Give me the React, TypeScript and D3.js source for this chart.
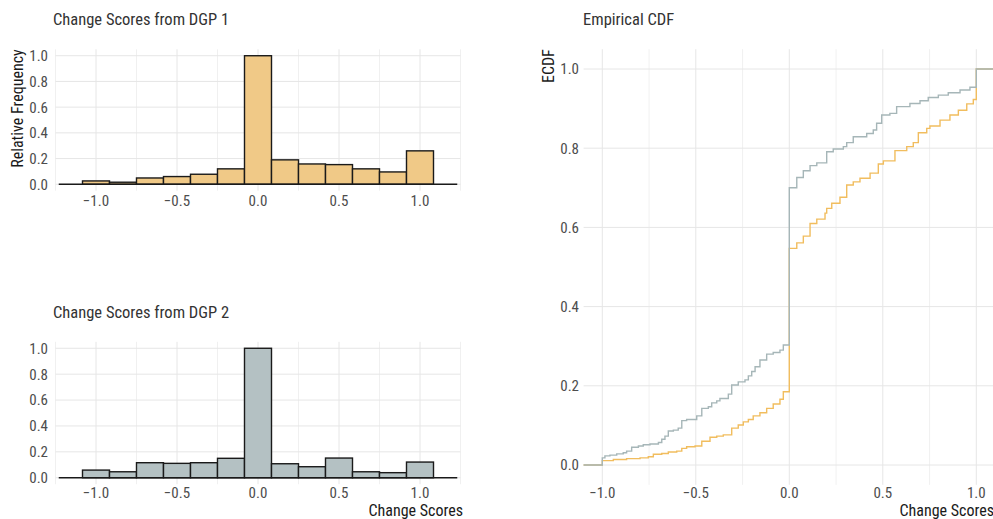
import React from "react";
import * as d3 from "d3";

// histogram bins (centres, width 1/6) and relative frequencies
const binCenters = [-1, -0.8333, -0.6667, -0.5, -0.3333, -0.1667, 0, 0.1667, 0.3333, 0.5, 0.6667, 0.8333, 1];
const binWidth = 1 / 6;
const dgp1Freq = [0.026, 0.016, 0.049, 0.06, 0.078, 0.12, 1.0, 0.19, 0.158, 0.153, 0.12, 0.096, 0.26];
const dgp2Freq = [0.059, 0.046, 0.116, 0.111, 0.116, 0.15, 1.0, 0.108, 0.085, 0.152, 0.046, 0.039, 0.121];

// empirical CDF step points (x where the step happens, F after it)
const dgp1EcdfX = [-1.0, -0.941, -0.87, -0.798, -0.754, -0.727, -0.682, -0.647, -0.602, -0.575, -0.549, -0.504, -0.468, -0.424, -0.388, -0.353, -0.308, -0.273, -0.246, -0.219, -0.193, -0.157, -0.121, -0.086, -0.05, -0.032, 0, 0.04, 0.075, 0.111, 0.147, 0.191, 0.2, 0.227, 0.271, 0.307, 0.342, 0.378, 0.432, 0.476, 0.503, 0.565, 0.628, 0.663, 0.69, 0.735, 0.752, 0.806, 0.859, 0.904, 0.949, 0.984, 1.0];
const dgp1EcdfY = [0.011, 0.014, 0.016, 0.018, 0.021, 0.027, 0.029, 0.033, 0.035, 0.042, 0.046, 0.048, 0.06, 0.07, 0.073, 0.076, 0.093, 0.101, 0.109, 0.115, 0.124, 0.132, 0.143, 0.154, 0.166, 0.185, 0.547, 0.561, 0.578, 0.61, 0.621, 0.636, 0.648, 0.661, 0.676, 0.707, 0.715, 0.724, 0.737, 0.76, 0.768, 0.794, 0.804, 0.814, 0.839, 0.85, 0.856, 0.871, 0.884, 0.896, 0.912, 0.923, 1.0];
const dgp2EcdfX = [-1.0, -0.986, -0.959, -0.923, -0.888, -0.87, -0.843, -0.807, -0.781, -0.745, -0.7, -0.682, -0.665, -0.647, -0.62, -0.594, -0.575, -0.549, -0.495, -0.468, -0.433, -0.415, -0.388, -0.371, -0.326, -0.308, -0.273, -0.237, -0.219, -0.201, -0.183, -0.157, -0.121, -0.086, -0.05, -0.032, 0, 0.04, 0.075, 0.111, 0.147, 0.2, 0.235, 0.289, 0.307, 0.342, 0.414, 0.449, 0.467, 0.494, 0.538, 0.574, 0.645, 0.699, 0.743, 0.797, 0.85, 0.913, 0.966, 1.0];
const dgp2EcdfY = [0.018, 0.023, 0.025, 0.028, 0.031, 0.035, 0.045, 0.048, 0.051, 0.053, 0.057, 0.065, 0.073, 0.086, 0.088, 0.093, 0.112, 0.115, 0.124, 0.143, 0.147, 0.157, 0.162, 0.168, 0.179, 0.202, 0.21, 0.215, 0.225, 0.236, 0.248, 0.265, 0.28, 0.284, 0.29, 0.303, 0.7, 0.726, 0.743, 0.756, 0.763, 0.791, 0.798, 0.804, 0.814, 0.829, 0.837, 0.846, 0.863, 0.884, 0.888, 0.905, 0.913, 0.92, 0.928, 0.934, 0.94, 0.947, 0.954, 1.0];

const xTicks = [-1, -0.5, 0, 0.5, 1];
const histMinorX = [-1.25, -0.75, -0.25, 0.25, 0.75, 1.25];
const ecdfMinorX = [-0.75, -0.25, 0.25, 0.75];
const freqTicks = [0, 0.2, 0.4, 0.6, 0.8, 1];
const ecdfTicks = [0, 0.2, 0.4, 0.6, 0.8, 1];

const orangeFill = "#F0C987";
const grayFill = "#B4C1C3";
const orangeLine = "#F1BD5E";
const grayLine = "#A6B6B8";
const grid = "#E6E6E6";
const font = "'Roboto Condensed', Roboto, sans-serif";
const fmt = d3.format(".1f");
const tickSize = 15;
const titleSize = 16.5;
const axisSize = 16;

function Histogram({ top, bottom, values, fill, title, titleY, tickY, showY, showX }) {
  const x = d3.scaleLinear().domain([-1.25, 1.25]).range([55.5, 460.5]);
  const y = d3.scaleLinear().domain([-0.05, 1.05]).range([bottom, top]);
  return (
    <g>
      <text x={53} y={titleY} fontSize={titleSize} fill="#333">{title}</text>
      {histMinorX.map(d => <line key={"m" + d} x1={x(d)} x2={x(d)} y1={top} y2={bottom} stroke={grid} strokeWidth={0.6} />)}
      {xTicks.map(d => <line key={"M" + d} x1={x(d)} x2={x(d)} y1={top} y2={bottom} stroke={grid} strokeWidth={1} />)}
      {freqTicks.map(d => (
        <g key={"y" + d}>
          <line x1={x(-1.25)} x2={x(1.25)} y1={y(d)} y2={y(d)} stroke={grid} strokeWidth={1} />
          <text x={48} y={y(d)} dy="0.36em" textAnchor="end" fontSize={tickSize} fill="#4d4d4d">{fmt(d)}</text>
        </g>
      ))}
      {values.map((v, i) => (
        <rect key={i} x={x(binCenters[i] - binWidth / 2)} width={x(binWidth) - x(0)}
          y={y(v)} height={y(0) - y(v)} fill={fill} stroke="#1a1a1a" strokeWidth={1.4} />
      ))}
      <line x1={x(-1.23)} x2={x(1.23)} y1={y(0)} y2={y(0)} stroke="#1a1a1a" strokeWidth={1.5} />
      {xTicks.map(d => (
        <text key={"x" + d} x={x(d)} y={tickY} textAnchor="middle" fontSize={tickSize} fill="#4d4d4d">{fmt(d)}</text>
      ))}
      {showY && (
        <text transform={`translate(23,${top}) rotate(-90)`} textAnchor="end" fontSize={axisSize} fill="#1a1a1a">Relative Frequency</text>
      )}
      {showX && (
        <text x={463} y={516} textAnchor="end" fontSize={axisSize} fill="#1a1a1a">Change Scores</text>
      )}
    </g>
  );
}

function Ecdf() {
  const top = 49.2, bottom = 484.8;
  const x = d3.scaleLinear().domain([-1.1, 1.1]).range([583.6, 995]);
  const y = d3.scaleLinear().domain([-0.05, 1.05]).range([bottom, top]);
  const line = d3.line().x(d => x(d[0])).y(d => y(d[1])).curve(d3.curveStepAfter);
  const pts = (xs, ys) => [[-1.1, 0], ...xs.map((v, i) => [v, ys[i]]), [1.1, 1]];
  return (
    <g>
      <text x={583} y={25} fontSize={titleSize} fill="#333">Empirical CDF</text>
      {ecdfMinorX.map(d => <line key={"m" + d} x1={x(d)} x2={x(d)} y1={top} y2={bottom} stroke={grid} strokeWidth={0.6} />)}
      {xTicks.map(d => <line key={"M" + d} x1={x(d)} x2={x(d)} y1={top} y2={bottom} stroke={grid} strokeWidth={1} />)}
      {ecdfTicks.map(d => (
        <g key={"y" + d}>
          <line x1={x(-1.1)} x2={x(1.1)} y1={y(d)} y2={y(d)} stroke={grid} strokeWidth={1} />
          <text x={579} y={y(d)} dy="0.36em" textAnchor="end" fontSize={tickSize} fill="#4d4d4d">{fmt(d)}</text>
        </g>
      ))}
      <path d={line(pts(dgp1EcdfX, dgp1EcdfY))} fill="none" stroke={orangeLine} strokeWidth={1.4} />
      <path d={line(pts(dgp2EcdfX, dgp2EcdfY))} fill="none" stroke={grayLine} strokeWidth={1.4} />
      {xTicks.map(d => (
        <text key={"x" + d} x={x(d)} y={498} textAnchor="middle" fontSize={tickSize} fill="#4d4d4d">{fmt(d)}</text>
      ))}
      <text transform={`translate(554,${top}) rotate(-90)`} textAnchor="end" fontSize={axisSize} fill="#1a1a1a">ECDF</text>
      <text x={994} y={516} textAnchor="end" fontSize={axisSize} fill="#1a1a1a">Change Scores</text>
    </g>
  );
}

export default function App() {
  return (
    <svg width={993} height={519} style={{ position: "absolute", left: 0, top: 0, background: "#fff" }} fontFamily={font}>
      <Histogram top={49.3} bottom={190.7} values={dgp1Freq} fill={orangeFill} title="Change Scores from DGP 1" titleY={25} tickY={206} showY={true} showX={false} />
      <Histogram top={341.8} bottom={484.2} values={dgp2Freq} fill={grayFill} title="Change Scores from DGP 2" titleY={318} tickY={498} showY={false} showX={true} />
      <Ecdf />
    </svg>
  );
}
